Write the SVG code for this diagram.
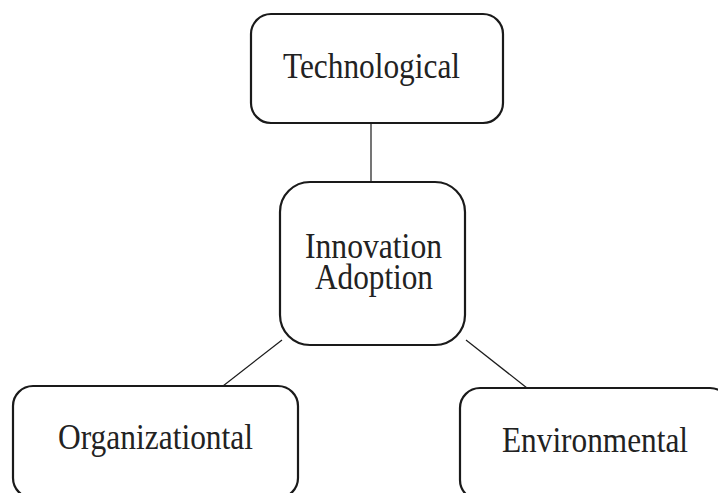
<svg xmlns="http://www.w3.org/2000/svg" width="718" height="493" viewBox="0 0 718 493">
<style>
.box{fill:#fff;stroke:#1a1a1a;stroke-width:2.2}
.lbl{font-family:"Liberation Serif","Times New Roman",serif;font-size:35px;fill:#222;text-anchor:middle}
.conn{stroke:#1a1a1a;stroke-width:1.2;fill:none}
</style>
<rect width="718" height="493" fill="#fff"/>
<g id="connectors">
<line class="conn" x1="371" y1="123" x2="371" y2="182"/>
<line class="conn" x1="282" y1="340" x2="223" y2="386"/>
<line class="conn" x1="466" y1="340" x2="527" y2="388"/>
</g>
<g id="technological">
<rect class="box" x="251" y="14" width="252" height="109" rx="20"/>
<text class="lbl" x="371.5" y="78" textLength="177" lengthAdjust="spacingAndGlyphs">Technological</text>
</g>
<g id="innovation-adoption">
<rect class="box" x="280" y="182" width="185" height="163" rx="30"/>
<text class="lbl" x="373.5" y="258" textLength="137" lengthAdjust="spacingAndGlyphs">Innovation</text>
<text class="lbl" x="374" y="289" textLength="118" lengthAdjust="spacingAndGlyphs">Adoption</text>
</g>
<g id="organizational">
<rect class="box" x="13" y="386" width="285" height="112" rx="20"/>
<text class="lbl" x="155.5" y="449" textLength="195" lengthAdjust="spacingAndGlyphs">Organizationtal</text>
</g>
<g id="environmental">
<rect class="box" x="460" y="388" width="270" height="112" rx="20"/>
<text class="lbl" x="595" y="452" textLength="186" lengthAdjust="spacingAndGlyphs">Environmental</text>
</g>
</svg>
